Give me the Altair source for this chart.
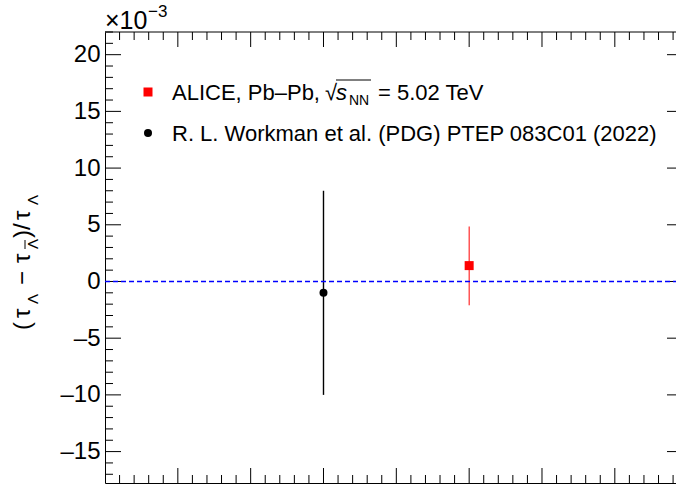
import altair as alt
import pandas as pd

# ---------------- data (values in units of 1e-3) ----------------
series = ["ALICE", "PDG"]
x_pos = [5, 3]
central = [1.4, -1.0]
err_low = [-2.1, -10.0]
err_high = [4.85, 8.0]
colors = ["#ff0000", "#000000"]
shapes = ["square", "circle"]
sizes = [81, 64]
bar_widths = [1.0, 1.4]

legend_text = ["ALICE, Pb\u2013Pb, ", "R. L. Workman et al. (PDG) PTEP 083C01 (2022)"]

y_major = [-15, -10, -5, 0, 5, 10, 15, 20]
y_minor = [v for v in range(-17, 23) if v % 5 != 0]
x_major = [1, 2, 3, 4, 5, 6, 7]
x_minor = [round(i * 0.2, 1) for i in range(1, 40) if i % 5 != 0]
ref_line = [0]

# ---------------- layout ----------------
W, H = 571, 451
FONT = "Liberation Sans, Arial, Helvetica, sans-serif"
xs = alt.Scale(domain=[0, 7.84], nice=False, zero=False)
ys = alt.Scale(domain=[-17.77, 22], nice=False, zero=False)

df = pd.DataFrame({"series": series, "x": x_pos, "c": central,
                   "lo": err_low, "hi": err_high})

col = alt.Color("series:N", scale=alt.Scale(domain=series, range=colors), legend=None)

xaxis = alt.Axis(labels=False, ticks=False, grid=False, title=None,
                 domain=True, domainColor="black", domainWidth=1)
yaxis = alt.Axis(values=y_major, ticks=False, grid=False, title=None,
                 domain=True, domainColor="black", domainWidth=1,
                 labelFont=FONT, labelFontSize=24, labelColor="black",
                 labelPadding=5, labelFlush=False, labelOverlap=False,
                 labelExpr="datum.value < 0 ? '\u2013' + format(-datum.value, 'd') : format(datum.value, 'd')")

# ---------------- ticks (inward) ----------------
def yticks(vals, x0, x1):
    return alt.Chart(pd.DataFrame({"ty": vals})).mark_rule(color="black", strokeWidth=1).encode(
        y=alt.Y("ty:Q", scale=ys), x=alt.value(x0), x2=alt.value(x1))

def xticks(vals, y0, y1):
    return alt.Chart(pd.DataFrame({"tx": vals})).mark_rule(color="black", strokeWidth=1).encode(
        x=alt.X("tx:Q", scale=xs), y=alt.value(y0), y2=alt.value(y1))

tick_layers = [
    yticks(y_major, 0, 16), yticks(y_minor, 0, 8), yticks(y_major, W - 9, W),
    xticks(x_major, H, H - 15), xticks(x_minor, H, H - 8),
    xticks(x_major, 0, 15), xticks(x_minor, 0, 8),
]

top_line = alt.Chart(pd.DataFrame({"k": [0]})).mark_rule(color="black", strokeWidth=1).encode(
    y=alt.value(0), x=alt.value(0), x2=alt.value(W))

zero_line = alt.Chart(pd.DataFrame({"z": ref_line})).mark_rule(
    strokeDash=[5, 3], strokeWidth=1.3, opacity=1).encode(
    y=alt.Y("z:Q", scale=ys), x=alt.value(0), x2=alt.value(W),
    color=alt.value("#0000ff"))

bars = alt.Chart(df).mark_rule().encode(
    x=alt.X("x:Q", scale=xs, axis=xaxis),
    y=alt.Y("lo:Q", scale=ys, axis=yaxis),
    y2="hi:Q",
    color=col,
    strokeWidth=alt.StrokeWidth("series:N", scale=alt.Scale(domain=series, range=bar_widths), legend=None),
)

points = alt.Chart(df).mark_point(filled=True, opacity=1).encode(
    x=alt.X("x:Q", scale=xs),
    y=alt.Y("c:Q", scale=ys),
    color=col,
    shape=alt.Shape("series:N", scale=alt.Scale(domain=series, range=shapes), legend=None),
    size=alt.Size("series:N", scale=alt.Scale(domain=series, range=sizes), legend=None),
)

# ---------------- text helpers ----------------
def txt(s, x, y, size=22, angle=0, style="normal", align="left"):
    kw = dict(text=s, font=FONT, fontSize=size, color="black", align=align,
              baseline="alphabetic", fontStyle=style)
    if angle:
        kw["angle"] = angle
    return alt.Chart(pd.DataFrame({"k": [0]})).mark_text(**kw).encode(
        x=alt.value(x), y=alt.value(y))

def hline(x0, x1, y, w=1):
    return alt.Chart(pd.DataFrame({"k": [0]})).mark_rule(color="black", strokeWidth=w).encode(
        x=alt.value(x0), x2=alt.value(x1), y=alt.value(y))

def vline(x, y0, y1, w=1):
    return alt.Chart(pd.DataFrame({"k": [0]})).mark_rule(color="black", strokeWidth=w).encode(
        x=alt.value(x), y=alt.value(y0), y2=alt.value(y1))

# exponent label
exp_layers = [txt("\u00d710", 0, -3, 25), txt("\u22123", 43, -15, 17)]

# y title (rotated), page coords converted to plot coords
OX, OY = 105, 32
MB, SB = 30 - OX, 38 - OX   # baselines (x) for main / subscript
title_layers = [
    txt("(", MB, 330 - OY, 24, 270),
    txt("\u03c4", MB, 318 - OY, 24, 270),
    txt("\u039b", SB, 304 - OY, 15, 270),
    txt("\u2212", MB, 285 - OY, 24, 270),
    txt("\u03c4", MB, 263 - OY, 24, 270),
    txt("\u039b", SB, 249 - OY, 15, 270),
    vline(SB - 13, 249 - OY, 240 - OY),
    txt(")", MB, 238 - OY, 24, 270),
    txt("/", MB, 230 - OY, 24, 270),
    txt("\u03c4", MB, 220 - OY, 24, 270),
    txt("\u039b", SB, 205 - OY, 15, 270),
]

# legend
leg_sq = alt.Chart(pd.DataFrame({"k": [0]})).mark_point(
    shape="square", filled=True, opacity=1, color=colors[0], size=81).encode(
    x=alt.value(148 - OX), y=alt.value(92 - OY))
leg_ci = alt.Chart(pd.DataFrame({"k": [0]})).mark_point(
    shape="circle", filled=True, opacity=1, color=colors[1], size=64).encode(
    x=alt.value(148 - OX), y=alt.value(133 - OY))

L1 = 100 - OY
legend_layers = [
    leg_sq, leg_ci,
    txt(legend_text[0], 172 - OX, L1, 22),
    txt("\u221a", 325 - OX, L1, 22),
    hline(336 - OX, 371 - OX, 80 - OY),
    txt("s", 336 - OX, L1, 22, style="italic"),
    txt("NN", 349 - OX, L1 + 5, 14),
    txt("= 5.02 TeV", 378 - OX, L1, 22),
    txt(legend_text[1], 172 - OX, 141 - OY, 22),
]

chart = alt.layer(
    bars, *tick_layers, top_line, zero_line, points,
    *exp_layers, *title_layers, *legend_layers
).properties(
    width=W, height=H,
    padding={"left": OX, "top": OY, "right": 0, "bottom": 1},
    autosize=alt.AutoSizeParams(type="none"),
).configure_view(stroke=None)

chart.save("out.html", embed_options={"renderer": "svg", "actions": False})
